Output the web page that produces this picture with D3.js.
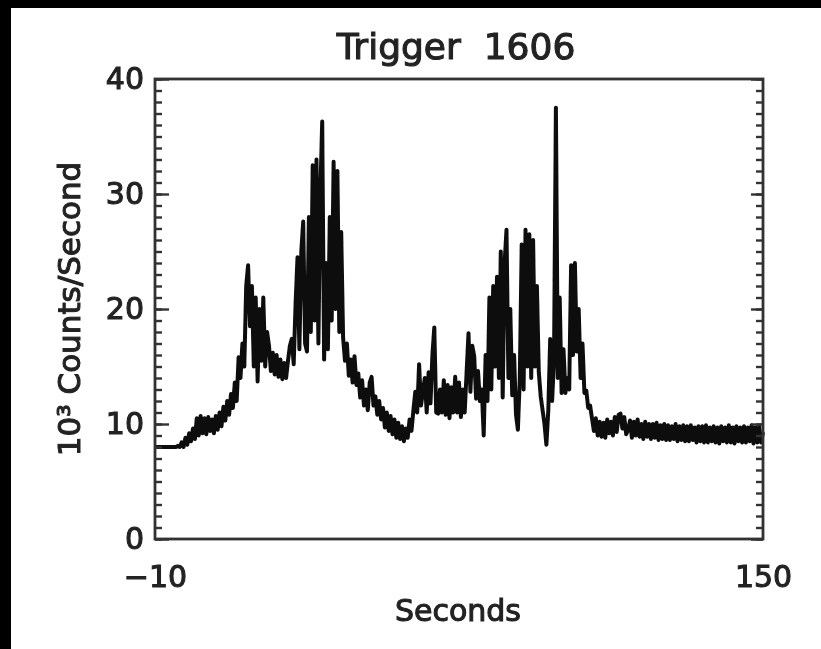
<!DOCTYPE html>
<html>
<head>
<meta charset="utf-8">
<script src="https://cdn.jsdelivr.net/npm/d3@7"></script>
<style>
  html, body { margin: 0; padding: 0; background: #000; }
  svg { display: block; }
  text { font-family: "DejaVu Sans", sans-serif; fill: #222; stroke: #222; stroke-width: 1.1px; }
</style>
</head>
<body>
<div id="wrapper"></div>
<script>
// ---- data ----
const titleText = "Trigger  1606";
const xLabel = "Seconds";
const yLabel = "10\u00B3 Counts/Second";
const xDomain = [-10, 150];
const yDomain = [0, 40];
const xTickValues = [-10, 150];
const yTickValues = [0, 10, 20, 30, 40];
const yMinorStep = 1;

// sample times, one every 0.5 s from -10 to 150
const timeStep = 0.5;
// count rate, 10^3 counts/s, one row per 5 s
const rates = [
  8.0, 8.0, 8.0, 8.0, 8.0, 8.0, 8.0, 8.0, 8.0, 8.0,
  8.0, 8.0, 8.1, 8.0, 8.4, 8.0, 8.8, 8.2, 9.2, 8.5,
  9.6, 8.7, 10.5, 9.0, 10.7, 9.2, 10.5, 9.1, 10.6, 9.4,
  10.4, 9.2, 10.7, 9.5, 11.0, 9.8, 11.5, 10.3, 12.0, 10.8,
  12.6, 11.4, 13.6, 12.0, 15.8, 14.0, 17.0, 15.0, 22.0, 23.8,
  18.5, 22.0, 15.0, 21.0, 13.7, 20.0, 15.5, 21.0, 15.0, 18.0,
  16.8, 14.6, 16.2, 14.3, 16.0, 14.1, 15.6, 13.9, 15.3, 14.0,
  15.5, 16.8, 17.4, 15.2, 20.5, 24.5, 16.5, 25.0, 27.6, 17.0,
  16.3, 28.0, 18.0, 32.5, 19.0, 33.0, 17.0, 30.0, 36.3, 15.6,
  24.0, 16.5, 28.0, 19.0, 32.8, 20.0, 32.0, 18.0, 26.7, 17.5,
  15.5, 17.0, 14.2, 15.6, 13.6, 15.9, 13.4, 14.4, 12.3, 13.8,
  11.6, 13.0, 11.2, 13.6, 14.1, 11.6, 12.4, 10.8, 12.0, 10.4,
  11.4, 9.7, 11.0, 9.4, 10.7, 9.1, 10.4, 8.8, 10.1, 8.7,
  9.8, 8.5, 9.6, 8.8, 10.4, 9.4, 11.2, 12.8, 11.0, 15.2,
  11.6, 12.8, 14.0, 11.0, 14.5, 11.8, 16.0, 18.4, 11.0, 10.9,
  13.0, 11.0, 13.8, 10.8, 13.4, 10.5, 13.2, 11.0, 14.1, 11.0,
  13.6, 10.6, 13.0, 11.0, 14.5, 17.9, 12.8, 16.8, 15.9, 12.2,
  14.6, 12.0, 13.0, 9.0, 16.0, 12.0, 21.0, 13.0, 22.0, 15.0,
  22.8, 14.0, 25.0, 12.3, 24.0, 26.9, 14.0, 20.0, 12.5, 16.0,
  10.8, 9.5, 14.0, 25.6, 13.0, 26.9, 15.0, 26.5, 14.0, 26.0,
  15.0, 22.0, 14.5, 12.4, 11.2, 10.0, 8.2, 11.2, 17.4, 12.0,
  15.5, 37.5, 14.0, 21.0, 12.7, 16.5, 12.7, 14.0, 13.0, 23.8,
  16.0, 24.0, 16.3, 20.0, 14.0, 17.0, 12.7, 12.9, 11.4, 11.6,
  10.5, 9.4, 10.5, 9.0, 10.2, 8.9, 10.1, 8.8, 10.4, 9.2,
  10.2, 9.0, 10.6, 9.3, 10.8, 10.9, 9.6, 10.6, 9.1, 9.5,
  10.3, 8.8, 10.2, 9.0, 10.4, 8.9, 10.0, 8.7, 10.2, 8.9,
  10.0, 8.7, 10.0, 8.8, 10.1, 8.6, 9.9, 8.7, 10.0, 8.6,
  9.9, 8.6, 9.8, 8.7, 10.0, 8.5, 9.8, 8.6, 9.9, 8.5,
  9.8, 8.5, 9.9, 8.6, 9.7, 8.4, 9.8, 8.5, 9.8, 8.4,
  9.9, 8.4, 9.7, 8.5, 9.8, 8.4, 9.7, 8.3, 9.8, 8.5,
  9.7, 8.4, 9.9, 8.4, 9.7, 8.3, 9.8, 8.5, 9.7, 8.4,
  9.8, 8.4, 9.7, 8.5, 9.9, 8.3, 9.7, 8.4, 9.8, 8.4,
  9.3,
];

function drawChart() {
  const width = 821;
  const height = 649;
  let dimensions = {
    paperLeft: 11,
    paperTop: 8,
    left: 155,
    right: 763,
    top: 79,
    bottom: 539,
  };

  const svg = d3
    .select("#wrapper")
    .append("svg")
    .attr("width", width)
    .attr("height", height);

  // soft blur, the reference is a scaled-up scan
  svg
    .append("defs")
    .append("filter")
    .attr("id", "soft")
    .append("feGaussianBlur")
    .attr("stdDeviation", 0.7);

  // white paper with black edge on top/left
  svg
    .append("rect")
    .attr("x", dimensions.paperLeft)
    .attr("y", dimensions.paperTop)
    .attr("width", width - dimensions.paperLeft)
    .attr("height", height - dimensions.paperTop)
    .attr("fill", "#fff");

  const chart = svg.append("g").attr("filter", "url(#soft)");

  const x = d3
    .scaleLinear()
    .domain(xDomain)
    .range([dimensions.left, dimensions.right]);
  const y = d3
    .scaleLinear()
    .domain(yDomain)
    .range([dimensions.bottom, dimensions.top]);

  const points = rates.map((v, i) => [xDomain[0] + i * timeStep, v]);

  // light curve
  const line = d3
    .line()
    .x((d) => x(d[0]))
    .y((d) => y(d[1]));

  chart
    .append("path")
    .datum(points)
    .attr("d", line)
    .attr("fill", "none")
    .attr("stroke", "#111")
    .attr("stroke-width", 4)
    .attr("stroke-linejoin", "round");

  const minorTicks = d3.range(yDomain[0], yDomain[1] + 0.001, yMinorStep);

  // left axis: minor + major ticks pointing inward, labels outside
  chart
    .append("g")
    .attr("transform", `translate(${dimensions.left},0)`)
    .call(d3.axisLeft(y).tickValues(minorTicks).tickSizeInner(-7).tickSizeOuter(0).tickFormat(""));
  const leftMajor = chart
    .append("g")
    .attr("transform", `translate(${dimensions.left},0)`)
    .call(
      d3.axisLeft(y).tickValues(yTickValues).tickSizeInner(-14).tickSizeOuter(0).tickPadding(11)
    );
  leftMajor.selectAll("text").attr("font-size", 30).attr("font-family", null);

  // right axis: ticks only
  chart
    .append("g")
    .attr("transform", `translate(${dimensions.right},0)`)
    .call(d3.axisRight(y).tickValues(minorTicks).tickSizeInner(-7).tickSizeOuter(0).tickFormat(""));
  chart
    .append("g")
    .attr("transform", `translate(${dimensions.right},0)`)
    .call(d3.axisRight(y).tickValues(yTickValues).tickSizeInner(-12).tickSizeOuter(0).tickFormat(""));

  // bottom axis: two labels, no ticks
  const bottom = chart
    .append("g")
    .attr("transform", `translate(0,${dimensions.bottom})`)
    .call(
      d3.axisBottom(x).tickValues(xTickValues).tickSize(0).tickPadding(27)
        .tickFormat((d) => (d < 0 ? "\u2212" + Math.abs(d) : d))
    );
  bottom.selectAll("text").attr("font-size", 30).attr("font-family", null);

  chart.selectAll(".domain").remove();
  chart.selectAll(".tick line").attr("stroke", "#333").attr("stroke-width", 2.4);

  // frame
  chart
    .append("rect")
    .attr("x", dimensions.left)
    .attr("y", dimensions.top)
    .attr("width", dimensions.right - dimensions.left)
    .attr("height", dimensions.bottom - dimensions.top)
    .attr("fill", "none")
    .attr("stroke", "#333")
    .attr("stroke-width", 2.8);

  // title
  chart
    .append("text")
    .attr("x", 456)
    .attr("y", 59)
    .attr("text-anchor", "middle")
    .attr("font-size", 36)
    .style("white-space", "pre")
    .text(titleText);

  // axis titles
  chart
    .append("text")
    .attr("x", 458)
    .attr("y", 621)
    .attr("text-anchor", "middle")
    .attr("font-size", 30)
    .text(xLabel);

  chart
    .append("text")
    .attr("transform", `translate(80,${(dimensions.top + dimensions.bottom) / 2}) rotate(-90)`)
    .attr("text-anchor", "middle")
    .attr("font-size", 31)
    .text(yLabel);
}

drawChart();
</script>
</body>
</html>
